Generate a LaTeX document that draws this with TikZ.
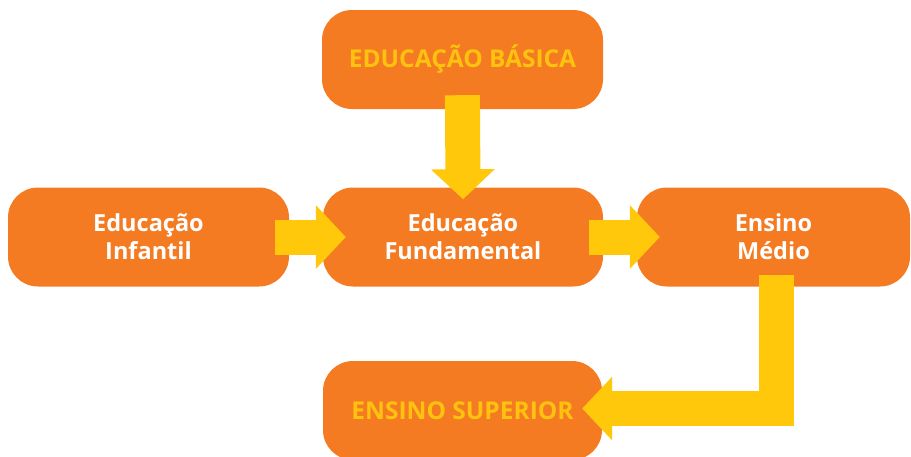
\documentclass[tikz,border=0pt]{standalone}
\usepackage{fontspec}
\setmainfont{Open Sans}
\usetikzlibrary{arrows.meta}
\definecolor{boxorange}{RGB}{244,123,34}
\definecolor{flowyellow}{RGB}{255,200,10}
\definecolor{textyellow}{RGB}{255,194,14}
\tikzset{
  x=1pt, y=-1pt,
  stagebox/.style={fill=boxorange, rounded corners=30pt, inner sep=0pt,
    minimum height=99pt, text=white, align=center,
    font=\fontsize{23.5}{28}\selectfont\bfseries},
  levelbox/.style={stagebox, text=textyellow,
    font=\fontsize{24.5}{28}\selectfont\bfseries},
  flow/.style={draw=flowyellow, line width=35pt, line join=miter,
    -{Triangle[length=30pt, width=62pt]}},
}
\begin{document}
\begin{tikzpicture}
\useasboundingbox (0,0) rectangle (911,456);
\begin{scope}
\clip (0,0) rectangle (911,456);
% stages
\node[levelbox, minimum width=281pt] (basica) at (462.5,59.5) {EDUCAÇÃO BÁSICA};
\node[stagebox, minimum width=281pt] (infantil) at (148.5,237) {Educação\\Infantil};
\node[stagebox, minimum width=280pt] (fundamental) at (463,237) {Educação\\Fundamental};
\node[stagebox, minimum width=273pt] (medio) at (773.5,237) {Ensino\\Médio};
\node[levelbox, minimum width=279pt] (superior) at (462.5,410.5) {ENSINO SUPERIOR};
% flow arrows
\draw[flow, shorten <=-14pt, shorten >=-12pt] (basica.south) -- (fundamental.north);
\draw[flow, shorten <=-14pt, shorten >=-23pt] (infantil.east) -- (fundamental.west);
\draw[flow, shorten <=-14pt, shorten >=-23pt] (fundamental.east) -- (medio.west);
\draw[flow, shorten <=-12pt, shorten >=-20pt] ([xshift=2.5pt]medio.south) |- ([yshift=2pt]superior.east);
\end{scope}
\end{tikzpicture}
\end{document}
